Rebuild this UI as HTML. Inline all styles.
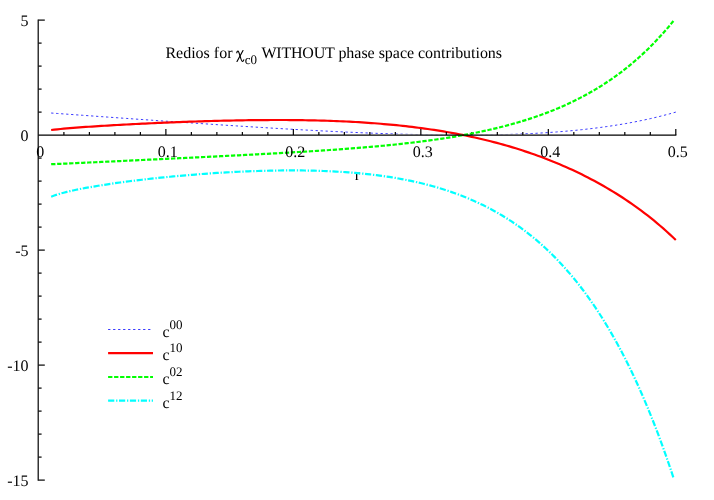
<!DOCTYPE html>
<html><head><meta charset="utf-8"><title>plot</title>
<style>
html,body{margin:0;padding:0;background:#fff;}
svg{display:block}
text{font-family:"Liberation Serif",serif;font-size:16px;fill:#000;text-rendering:geometricPrecision}
svg{will-change:transform;opacity:0.999}
.ax line,.ax path{stroke:#000;stroke-width:1.2;fill:none}
.b{stroke:#0000ff;stroke-width:0.78;stroke-dasharray:2.3 2.7;fill:none}
.r{stroke:#ff0000;stroke-width:2.2;fill:none}
.g{stroke:#00ff00;stroke-width:2.2;stroke-dasharray:4.3 1.7;fill:none}
.c{stroke:#00ffff;stroke-width:2.2;stroke-dasharray:6.2 1.8 1.3 1.6;fill:none}
</style></head><body>
<svg width="714" height="500" viewBox="0 0 714 500">
<rect width="714" height="500" fill="#fff"/>
<text x="357.4" y="179.6" text-anchor="middle">r</text>
<path class="b" d="M51.15,113.02 L54.29,113.25 L57.43,113.47 L60.56,113.70 L63.70,113.93 L66.84,114.15 L69.98,114.38 L73.12,114.60 L76.26,114.83 L79.40,115.06 L82.54,115.28 L85.68,115.51 L88.82,115.73 L91.95,115.96 L95.09,116.18 L98.23,116.41 L101.37,116.63 L104.51,116.86 L107.65,117.08 L110.79,117.31 L113.93,117.53 L117.07,117.75 L120.21,117.98 L123.34,118.20 L126.48,118.42 L129.62,118.64 L132.76,118.87 L135.90,119.09 L139.04,119.31 L142.18,119.53 L145.32,119.75 L148.46,119.97 L151.59,120.19 L154.73,120.41 L157.87,120.63 L161.01,120.85 L164.15,121.07 L167.29,121.28 L170.43,121.50 L173.57,121.72 L176.71,121.93 L179.85,122.15 L182.98,122.36 L186.12,122.58 L189.26,122.79 L192.40,123.00 L195.54,123.22 L198.68,123.43 L201.82,123.64 L204.96,123.85 L208.10,124.06 L211.23,124.27 L214.37,124.47 L217.51,124.68 L220.65,124.89 L223.79,125.09 L226.93,125.30 L230.07,125.50 L233.21,125.70 L236.35,125.90 L239.49,126.10 L242.62,126.30 L245.76,126.50 L248.90,126.70 L252.04,126.89 L255.18,127.09 L258.32,127.28 L261.46,127.47 L264.60,127.66 L267.74,127.85 L270.87,128.04 L274.01,128.23 L277.15,128.42 L280.29,128.60 L283.43,128.78 L286.57,128.96 L289.71,129.14 L292.85,129.32 L295.99,129.50 L299.13,129.67 L302.26,129.85 L305.40,130.02 L308.54,130.19 L311.68,130.35 L314.82,130.52 L317.96,130.68 L321.10,130.85 L324.24,131.01 L327.38,131.16 L330.51,131.32 L333.65,131.47 L336.79,131.62 L339.93,131.77 L343.07,131.92 L346.21,132.06 L349.35,132.21 L352.49,132.34 L355.63,132.48 L358.77,132.62 L361.90,132.75 L365.04,132.88 L368.18,133.00 L371.32,133.12 L374.46,133.24 L377.60,133.36 L380.74,133.48 L383.88,133.59 L387.02,133.69 L390.16,133.80 L393.29,133.90 L396.43,134.00 L399.57,134.09 L402.71,134.18 L405.85,134.27 L408.99,134.35 L412.13,134.43 L415.27,134.51 L418.41,134.58 L421.54,134.65 L424.68,134.71 L427.82,134.77 L430.96,134.82 L434.10,134.87 L437.24,134.92 L440.38,134.96 L443.52,134.99 L446.66,135.02 L449.80,135.05 L452.93,135.07 L456.07,135.09 L459.21,135.10 L462.35,135.10 L465.49,135.10 L468.63,135.09 L471.77,135.08 L474.91,135.06 L478.05,135.04 L481.18,135.00 L484.32,134.97 L487.46,134.92 L490.60,134.87 L493.74,134.81 L496.88,134.75 L500.02,134.68 L503.16,134.60 L506.30,134.51 L509.44,134.42 L512.57,134.32 L515.71,134.21 L518.85,134.09 L521.99,133.96 L525.13,133.83 L528.27,133.68 L531.41,133.53 L534.55,133.37 L537.69,133.20 L540.82,133.02 L543.96,132.83 L547.10,132.63 L550.24,132.41 L553.38,132.19 L556.52,131.96 L559.66,131.72 L562.80,131.46 L565.94,131.20 L569.08,130.92 L572.21,130.63 L575.35,130.33 L578.49,130.01 L581.63,129.69 L584.77,129.35 L587.91,128.99 L591.05,128.63 L594.19,128.24 L597.33,127.85 L600.47,127.44 L603.60,127.01 L606.74,126.57 L609.88,126.11 L613.02,125.64 L616.16,125.15 L619.30,124.64 L622.44,124.12 L625.58,123.58 L628.72,123.02 L631.85,122.44 L634.99,121.84 L638.13,121.22 L641.27,120.58 L644.41,119.93 L647.55,119.25 L650.69,118.55 L653.83,117.82 L656.97,117.08 L660.11,116.31 L663.24,115.52 L666.38,114.70 L669.52,113.86 L672.66,112.99 L675.80,112.10"/>
<path d="M38.4,135.1 L676.4,135.1" stroke="#fff" stroke-width="1.5" fill="none"/>
<path class="r" d="M51.15,130.03 L54.29,129.64 L57.43,129.30 L60.56,128.98 L63.70,128.68 L66.84,128.40 L69.98,128.13 L73.12,127.88 L76.26,127.64 L79.40,127.40 L82.54,127.17 L85.68,126.95 L88.82,126.74 L91.95,126.53 L95.09,126.32 L98.23,126.12 L101.37,125.92 L104.51,125.73 L107.65,125.54 L110.79,125.36 L113.93,125.18 L117.07,125.00 L120.21,124.83 L123.34,124.66 L126.48,124.49 L129.62,124.32 L132.76,124.16 L135.90,124.00 L139.04,123.85 L142.18,123.69 L145.32,123.54 L148.46,123.39 L151.59,123.25 L154.73,123.11 L157.87,122.97 L161.01,122.83 L164.15,122.69 L167.29,122.56 L170.43,122.43 L173.57,122.31 L176.71,122.18 L179.85,122.06 L182.98,121.94 L186.12,121.83 L189.26,121.72 L192.40,121.61 L195.54,121.50 L198.68,121.40 L201.82,121.30 L204.96,121.20 L208.10,121.11 L211.23,121.02 L214.37,120.93 L217.51,120.84 L220.65,120.76 L223.79,120.69 L226.93,120.61 L230.07,120.54 L233.21,120.48 L236.35,120.42 L239.49,120.36 L242.62,120.30 L245.76,120.25 L248.90,120.21 L252.04,120.17 L255.18,120.13 L258.32,120.10 L261.46,120.07 L264.60,120.05 L267.74,120.03 L270.87,120.01 L274.01,120.01 L277.15,120.00 L280.29,120.00 L283.43,120.01 L286.57,120.02 L289.71,120.04 L292.85,120.07 L295.99,120.10 L299.13,120.14 L302.26,120.18 L305.40,120.23 L308.54,120.28 L311.68,120.35 L314.82,120.42 L317.96,120.49 L321.10,120.58 L324.24,120.67 L327.38,120.77 L330.51,120.87 L333.65,120.99 L336.79,121.11 L339.93,121.24 L343.07,121.38 L346.21,121.52 L349.35,121.68 L352.49,121.84 L355.63,122.02 L358.77,122.20 L361.90,122.39 L365.04,122.60 L368.18,122.81 L371.32,123.03 L374.46,123.26 L377.60,123.51 L380.74,123.76 L383.88,124.03 L387.02,124.30 L390.16,124.59 L393.29,124.89 L396.43,125.20 L399.57,125.53 L402.71,125.86 L405.85,126.21 L408.99,126.57 L412.13,126.94 L415.27,127.33 L418.41,127.73 L421.54,128.15 L424.68,128.57 L427.82,129.02 L430.96,129.47 L434.10,129.95 L437.24,130.43 L440.38,130.94 L443.52,131.45 L446.66,131.99 L449.80,132.54 L452.93,133.10 L456.07,133.69 L459.21,134.29 L462.35,134.90 L465.49,135.54 L468.63,136.19 L471.77,136.86 L474.91,137.55 L478.05,138.26 L481.18,138.98 L484.32,139.73 L487.46,140.50 L490.60,141.28 L493.74,142.09 L496.88,142.91 L500.02,143.76 L503.16,144.63 L506.30,145.52 L509.44,146.43 L512.57,147.37 L515.71,148.32 L518.85,149.30 L521.99,150.31 L525.13,151.33 L528.27,152.38 L531.41,153.46 L534.55,154.56 L537.69,155.69 L540.82,156.84 L543.96,158.02 L547.10,159.22 L550.24,160.45 L553.38,161.71 L556.52,163.00 L559.66,164.31 L562.80,165.66 L565.94,167.03 L569.08,168.44 L572.21,169.87 L575.35,171.34 L578.49,172.83 L581.63,174.36 L584.77,175.93 L587.91,177.52 L591.05,179.16 L594.19,180.82 L597.33,182.52 L600.47,184.26 L603.60,186.04 L606.74,187.86 L609.88,189.71 L613.02,191.60 L616.16,193.54 L619.30,195.52 L622.44,197.54 L625.58,199.61 L628.72,201.72 L631.85,203.88 L634.99,206.09 L638.13,208.35 L641.27,210.66 L644.41,213.03 L647.55,215.45 L650.69,217.93 L653.83,220.46 L656.97,223.06 L660.11,225.72 L663.24,228.45 L666.38,231.24 L669.52,234.11 L672.66,237.05 L675.80,240.07"/>
<g class="ax">
<line x1="63.90" y1="135.10" x2="63.90" y2="131.90"/>
<line x1="89.39" y1="135.10" x2="89.39" y2="131.90"/>
<line x1="114.89" y1="135.10" x2="114.89" y2="131.90"/>
<line x1="140.38" y1="135.10" x2="140.38" y2="131.90"/>
<line x1="165.88" y1="135.10" x2="165.88" y2="128.90"/>
<line x1="191.38" y1="135.10" x2="191.38" y2="131.90"/>
<line x1="216.87" y1="135.10" x2="216.87" y2="131.90"/>
<line x1="242.37" y1="135.10" x2="242.37" y2="131.90"/>
<line x1="267.86" y1="135.10" x2="267.86" y2="131.90"/>
<line x1="293.36" y1="135.10" x2="293.36" y2="128.90"/>
<line x1="318.86" y1="135.10" x2="318.86" y2="131.90"/>
<line x1="344.35" y1="135.10" x2="344.35" y2="131.90"/>
<line x1="369.85" y1="135.10" x2="369.85" y2="131.90"/>
<line x1="395.34" y1="135.10" x2="395.34" y2="131.90"/>
<line x1="420.84" y1="135.10" x2="420.84" y2="128.90"/>
<line x1="446.34" y1="135.10" x2="446.34" y2="131.90"/>
<line x1="471.83" y1="135.10" x2="471.83" y2="131.90"/>
<line x1="497.33" y1="135.10" x2="497.33" y2="131.90"/>
<line x1="522.82" y1="135.10" x2="522.82" y2="131.90"/>
<line x1="548.32" y1="135.10" x2="548.32" y2="128.90"/>
<line x1="573.82" y1="135.10" x2="573.82" y2="131.90"/>
<line x1="599.31" y1="135.10" x2="599.31" y2="131.90"/>
<line x1="624.81" y1="135.10" x2="624.81" y2="131.90"/>
<line x1="650.30" y1="135.10" x2="650.30" y2="131.90"/>
<line x1="675.80" y1="135.10" x2="675.80" y2="128.90"/>
<line x1="38.40" y1="480.10" x2="44.80" y2="480.10"/>
<line x1="38.40" y1="457.10" x2="41.60" y2="457.10"/>
<line x1="38.40" y1="434.10" x2="41.60" y2="434.10"/>
<line x1="38.40" y1="411.10" x2="41.60" y2="411.10"/>
<line x1="38.40" y1="388.10" x2="41.60" y2="388.10"/>
<line x1="38.40" y1="365.10" x2="44.80" y2="365.10"/>
<line x1="38.40" y1="342.10" x2="41.60" y2="342.10"/>
<line x1="38.40" y1="319.10" x2="41.60" y2="319.10"/>
<line x1="38.40" y1="296.10" x2="41.60" y2="296.10"/>
<line x1="38.40" y1="273.10" x2="41.60" y2="273.10"/>
<line x1="38.40" y1="250.10" x2="44.80" y2="250.10"/>
<line x1="38.40" y1="227.10" x2="41.60" y2="227.10"/>
<line x1="38.40" y1="204.10" x2="41.60" y2="204.10"/>
<line x1="38.40" y1="181.10" x2="41.60" y2="181.10"/>
<line x1="38.40" y1="158.10" x2="41.60" y2="158.10"/>
<line x1="38.40" y1="112.10" x2="41.60" y2="112.10"/>
<line x1="38.40" y1="89.10" x2="41.60" y2="89.10"/>
<line x1="38.40" y1="66.10" x2="41.60" y2="66.10"/>
<line x1="38.40" y1="43.10" x2="41.60" y2="43.10"/>
<line x1="38.40" y1="20.10" x2="44.80" y2="20.10"/>
</g>
<path class="g" d="M51.15,164.22 L54.28,164.08 L57.41,163.94 L60.54,163.81 L63.67,163.67 L66.80,163.53 L69.93,163.38 L73.06,163.24 L76.19,163.10 L79.32,162.96 L82.45,162.81 L85.58,162.67 L88.72,162.52 L91.85,162.38 L94.98,162.23 L98.11,162.09 L101.24,161.94 L104.37,161.80 L107.50,161.65 L110.63,161.50 L113.76,161.36 L116.89,161.21 L120.02,161.06 L123.15,160.91 L126.28,160.76 L129.41,160.61 L132.54,160.47 L135.67,160.32 L138.81,160.17 L141.94,160.02 L145.07,159.87 L148.20,159.72 L151.33,159.57 L154.46,159.42 L157.59,159.27 L160.72,159.12 L163.85,158.97 L166.98,158.82 L170.11,158.67 L173.24,158.52 L176.37,158.37 L179.50,158.21 L182.63,158.06 L185.76,157.91 L188.90,157.76 L192.03,157.61 L195.16,157.46 L198.29,157.30 L201.42,157.15 L204.55,157.00 L207.68,156.84 L210.81,156.69 L213.94,156.53 L217.07,156.38 L220.20,156.22 L223.33,156.07 L226.46,155.91 L229.59,155.75 L232.72,155.59 L235.85,155.44 L238.99,155.28 L242.12,155.12 L245.25,154.95 L248.38,154.79 L251.51,154.63 L254.64,154.47 L257.77,154.30 L260.90,154.13 L264.03,153.97 L267.16,153.80 L270.29,153.63 L273.42,153.46 L276.55,153.28 L279.68,153.11 L282.81,152.93 L285.95,152.76 L289.08,152.58 L292.21,152.39 L295.34,152.21 L298.47,152.02 L301.60,151.84 L304.73,151.65 L307.86,151.45 L310.99,151.26 L314.12,151.06 L317.25,150.86 L320.38,150.65 L323.51,150.45 L326.64,150.24 L329.77,150.02 L332.90,149.81 L336.04,149.58 L339.17,149.36 L342.30,149.13 L345.43,148.90 L348.56,148.66 L351.69,148.42 L354.82,148.18 L357.95,147.93 L361.08,147.67 L364.21,147.41 L367.34,147.14 L370.47,146.87 L373.60,146.60 L376.73,146.31 L379.86,146.02 L382.99,145.73 L386.13,145.43 L389.26,145.12 L392.39,144.80 L395.52,144.48 L398.65,144.15 L401.78,143.81 L404.91,143.46 L408.04,143.11 L411.17,142.74 L414.30,142.37 L417.43,141.99 L420.56,141.60 L423.69,141.19 L426.82,140.78 L429.95,140.36 L433.08,139.93 L436.22,139.48 L439.35,139.03 L442.48,138.56 L445.61,138.08 L448.74,137.58 L451.87,137.08 L455.00,136.56 L458.13,136.02 L461.26,135.47 L464.39,134.91 L467.52,134.33 L470.65,133.73 L473.78,133.12 L476.91,132.49 L480.04,131.85 L483.17,131.18 L486.31,130.50 L489.44,129.80 L492.57,129.08 L495.70,128.34 L498.83,127.57 L501.96,126.79 L505.09,125.98 L508.22,125.15 L511.35,124.30 L514.48,123.42 L517.61,122.52 L520.74,121.59 L523.87,120.64 L527.00,119.66 L530.13,118.65 L533.26,117.61 L536.40,116.54 L539.53,115.44 L542.66,114.31 L545.79,113.14 L548.92,111.95 L552.05,110.71 L555.18,109.45 L558.31,108.14 L561.44,106.80 L564.57,105.41 L567.70,103.99 L570.83,102.53 L573.96,101.02 L577.09,99.47 L580.22,97.87 L583.35,96.23 L586.49,94.54 L589.62,92.80 L592.75,91.01 L595.88,89.16 L599.01,87.26 L602.14,85.31 L605.27,83.29 L608.40,81.22 L611.53,79.09 L614.66,76.89 L617.79,74.63 L620.92,72.30 L624.05,69.90 L627.18,67.43 L630.31,64.88 L633.44,62.26 L636.58,59.56 L639.71,56.78 L642.84,53.92 L645.97,50.97 L649.10,47.93 L652.23,44.80 L655.36,41.58 L658.49,38.25 L661.62,34.83 L664.75,31.30 L667.88,27.67 L671.01,23.92 L674.14,20.06"/>
<path class="c" d="M51.15,196.70 L54.28,195.51 L57.41,194.48 L60.54,193.55 L63.67,192.70 L66.79,191.90 L69.92,191.16 L73.05,190.46 L76.18,189.79 L79.31,189.16 L82.44,188.54 L85.57,187.95 L88.70,187.39 L91.83,186.84 L94.96,186.30 L98.09,185.78 L101.22,185.28 L104.35,184.79 L107.48,184.31 L110.61,183.85 L113.73,183.39 L116.86,182.95 L119.99,182.52 L123.12,182.09 L126.25,181.68 L129.38,181.27 L132.51,180.88 L135.64,180.49 L138.77,180.11 L141.90,179.74 L145.03,179.37 L148.16,179.02 L151.29,178.67 L154.42,178.33 L157.55,177.99 L160.68,177.67 L163.80,177.35 L166.93,177.03 L170.06,176.73 L173.19,176.43 L176.32,176.14 L179.45,175.85 L182.58,175.58 L185.71,175.31 L188.84,175.04 L191.97,174.78 L195.10,174.53 L198.23,174.29 L201.36,174.05 L204.49,173.82 L207.62,173.60 L210.74,173.38 L213.87,173.17 L217.00,172.97 L220.13,172.77 L223.26,172.58 L226.39,172.40 L229.52,172.23 L232.65,172.06 L235.78,171.90 L238.91,171.75 L242.04,171.60 L245.17,171.46 L248.30,171.33 L251.43,171.21 L254.56,171.10 L257.68,170.99 L260.81,170.90 L263.94,170.81 L267.07,170.73 L270.20,170.66 L273.33,170.60 L276.46,170.54 L279.59,170.50 L282.72,170.47 L285.85,170.44 L288.98,170.43 L292.11,170.42 L295.24,170.43 L298.37,170.44 L301.50,170.47 L304.63,170.51 L307.75,170.56 L310.88,170.62 L314.01,170.70 L317.14,170.78 L320.27,170.88 L323.40,170.99 L326.53,171.11 L329.66,171.25 L332.79,171.40 L335.92,171.57 L339.05,171.75 L342.18,171.94 L345.31,172.15 L348.44,172.38 L351.57,172.62 L354.69,172.88 L357.82,173.15 L360.95,173.45 L364.08,173.76 L367.21,174.08 L370.34,174.43 L373.47,174.80 L376.60,175.19 L379.73,175.59 L382.86,176.02 L385.99,176.47 L389.12,176.94 L392.25,177.44 L395.38,177.95 L398.51,178.50 L401.63,179.06 L404.76,179.65 L407.89,180.27 L411.02,180.92 L414.15,181.59 L417.28,182.29 L420.41,183.02 L423.54,183.77 L426.67,184.56 L429.80,185.39 L432.93,186.24 L436.06,187.12 L439.19,188.05 L442.32,189.00 L445.45,189.99 L448.57,191.02 L451.70,192.09 L454.83,193.20 L457.96,194.34 L461.09,195.53 L464.22,196.76 L467.35,198.03 L470.48,199.35 L473.61,200.72 L476.74,202.13 L479.87,203.59 L483.00,205.10 L486.13,206.67 L489.26,208.28 L492.39,209.95 L495.52,211.68 L498.64,213.46 L501.77,215.30 L504.90,217.20 L508.03,219.17 L511.16,221.20 L514.29,223.29 L517.42,225.45 L520.55,227.69 L523.68,229.99 L526.81,232.36 L529.94,234.81 L533.07,237.34 L536.20,239.95 L539.33,242.64 L542.46,245.41 L545.58,248.27 L548.71,251.22 L551.84,254.26 L554.97,257.40 L558.10,260.62 L561.23,263.95 L564.36,267.38 L567.49,270.91 L570.62,274.55 L573.75,278.30 L576.88,282.17 L580.01,286.15 L583.14,290.25 L586.27,294.47 L589.40,298.81 L592.52,303.29 L595.65,307.90 L598.78,312.65 L601.91,317.53 L605.04,322.56 L608.17,327.74 L611.30,333.07 L614.43,338.56 L617.56,344.21 L620.69,350.02 L623.82,356.01 L626.95,362.17 L630.08,368.50 L633.21,375.02 L636.34,381.73 L639.46,388.64 L642.59,395.75 L645.72,403.06 L648.85,410.58 L651.98,418.32 L655.11,426.28 L658.24,434.47 L661.37,442.90 L664.50,451.57 L667.63,460.48 L670.76,469.66 L673.89,479.10"/>
<g class="ax">
<path d="M38.199999999999996,19.499999999999993 L38.199999999999996,480.70000000000005" stroke-width="1.25"/>
<path d="M38.4,135.1 L676.4,135.1"/>
</g>
<g>
<text x="40.30" y="156.6" text-anchor="middle">0</text>
<text x="167.78" y="156.6" text-anchor="middle">0.1</text>
<text x="295.26" y="156.6" text-anchor="middle">0.2</text>
<text x="422.74" y="156.6" text-anchor="middle">0.3</text>
<text x="550.22" y="156.6" text-anchor="middle">0.4</text>
<text x="677.70" y="156.6" text-anchor="middle">0.5</text>
<text x="28.5" y="25.80" text-anchor="end">5</text>
<text x="28.5" y="140.80" text-anchor="end">0</text>
<text x="28.5" y="255.80" text-anchor="end">-5</text>
<text x="28.5" y="370.80" text-anchor="end">-10</text>
<text x="28.5" y="485.80" text-anchor="end">-15</text>
</g>
<text x="165.4" y="58.2">Redios for</text>
<g stroke="#000" fill="none" stroke-linecap="round"><path d="M236.8,52.8 C236.9,51.4 237.6,50.7 238.3,51.3 C239,52.1 239.7,54.6 240.4,57.1 C241.1,59.6 241.7,61.4 242.6,61.4 C243.3,61.4 243.7,60.6 243.8,59.8" stroke-width="1.15"/><path d="M243,50.5 L237,61.5" stroke-width="1.15"/></g>
<text x="244.7" y="63.6" style="font-size:13px">c0</text>
<text x="261.4" y="58.2" letter-spacing="-0.2">WITHOUT</text>
<text x="338.4" y="58.2" letter-spacing="-0.03">phase space contributions</text>
<path d="M108.1,329.5 L153,329.5" class="b"/>
<text x="162.5" y="336.5">c<tspan dy="-7.9" font-size="13">00</tspan></text>
<path d="M108.1,353.1 L153,353.1" class="r"/>
<text x="162.5" y="360.1">c<tspan dy="-7.9" font-size="13">10</tspan></text>
<path d="M108.1,377.0 L153,377.0" class="g"/>
<text x="162.5" y="384.0">c<tspan dy="-7.9" font-size="13">02</tspan></text>
<path d="M108.1,400.7 L153,400.7" class="c"/>
<text x="162.5" y="407.7">c<tspan dy="-7.9" font-size="13">12</tspan></text>
</svg>
</body></html>
